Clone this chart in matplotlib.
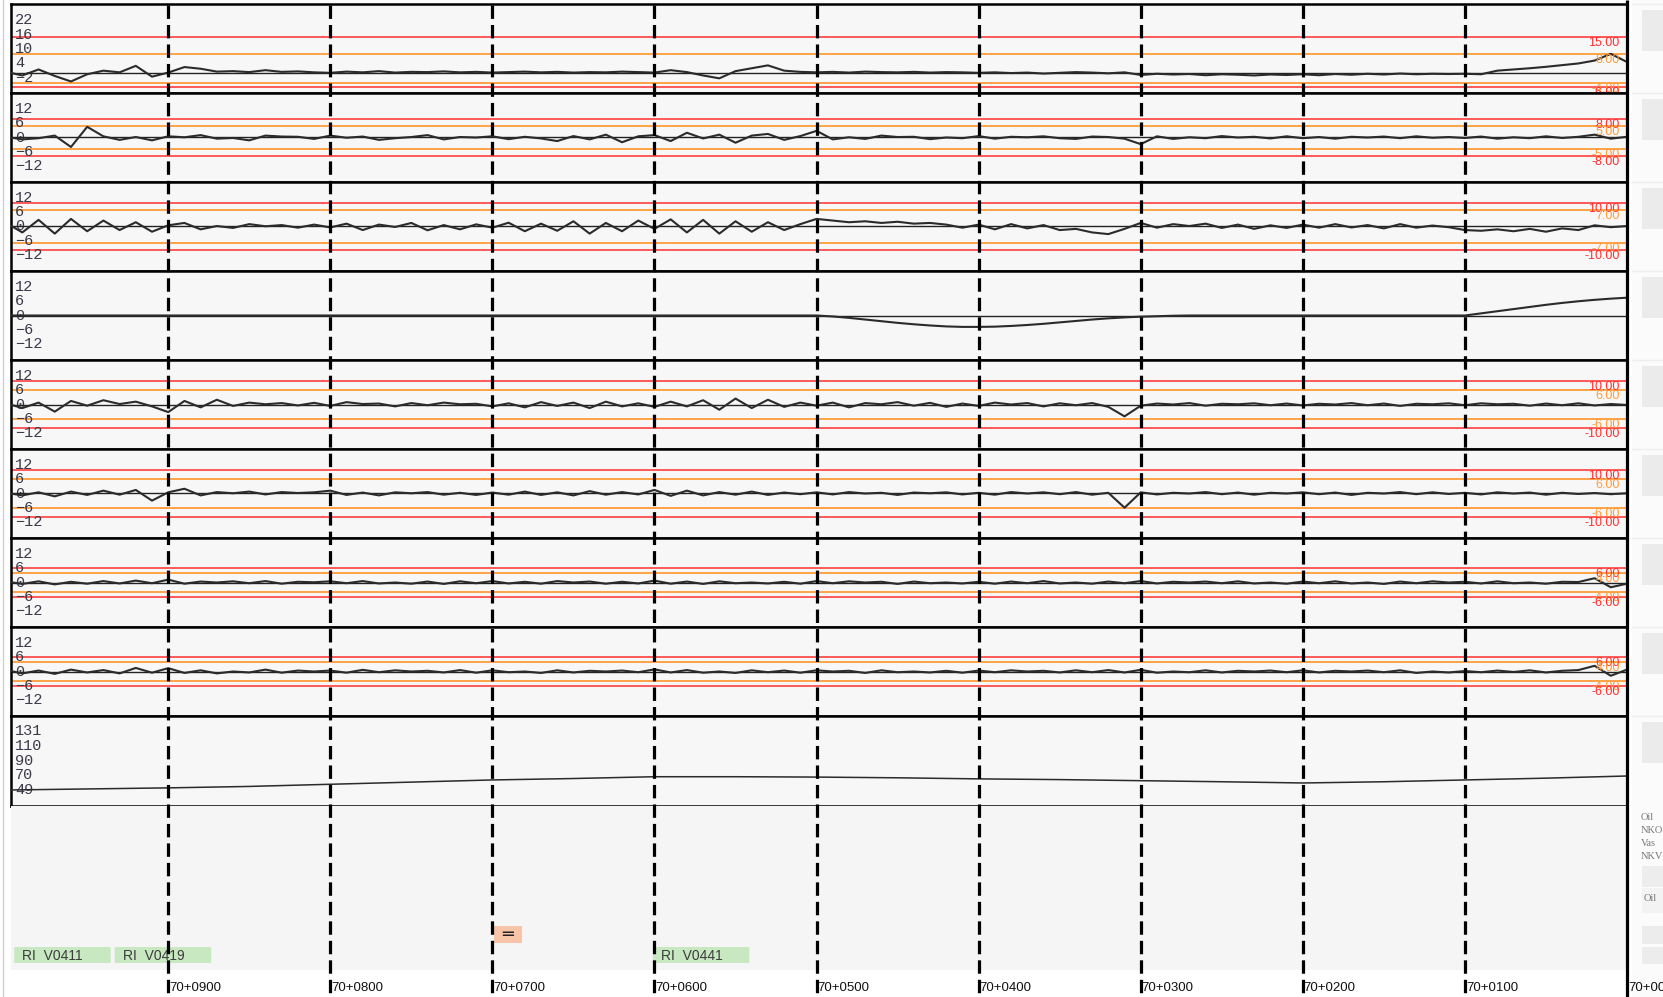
import numpy as np
import matplotlib
matplotlib.use("Agg")
import matplotlib.pyplot as plt
from matplotlib.patches import Rectangle, FancyBboxPatch
from matplotlib.lines import Line2D

# chainage grid (m), left to right
chain10 = np.arange(1000, -1, -10)

sig1 = [0.5, -1.0, 1.5, -1.2, -3.5, -0.5, 1.0, 0.3, 3.0, -1.5,
        0.2, 2.5, 1.8, 0.6, 0.8, 0.4, 1.2, 0.5, 0.7, 0.3,
        0.1, 0.6, 0.3, 0.8, 0.2, 0.5, 0.4, 0.7, 0.3, 0.5,
        0.2, 0.4, 0.6, 0.3, 0.5, 0.2, 0.4, 0.3, 0.6, 0.4,
        0.2, 1.2, 0.4, -1.0, -2.2, 0.8, 2.0, 3.2, 1.0, 0.5,
        0.3, 0.5, 0.2, 0.6, 0.4, 0.3, 0.5, 0.2, 0.4, 0.3,
        0.1, 0.3, 0.0, 0.2, -0.2, 0.1, 0.4, 0.2, -0.1, 0.3,
        -0.8, -0.3, -0.6, -0.4, -0.9, -0.5, -0.7, -1.0, -0.6, -0.8,
        -0.5, -0.9, -0.4, -0.7, -0.3, -0.6, -0.2, -0.5, -0.3, -0.4,
        -0.3, -0.5, 1.0, 1.5, 2.0, 2.6, 3.3, 4.0, 5.2, 8.0,
        4.6]
sig2 = [0.3, -0.8, -0.3, 0.8, -4.0, 4.5, 0.5, -1.0, 0.2, -1.2,
        0.5, 0.1, 1.0, -0.5, -0.2, -1.2, 0.8, 0.4, 0.3, -0.6,
        0.8, -0.1, 0.4, -1.0, -0.3, 0.2, 1.0, -0.8, 0.2, 0.0,
        0.5, -0.7, 0.3, -0.4, -1.5, 0.6, -0.8, 1.2, -2.0, 0.5,
        1.0, -1.5, 2.0, -0.4, 1.2, -2.2, 0.8, 1.5, -1.0, 0.6,
        2.8, -0.8, 0.1, -0.6, 0.8, 0.2, 0.3, -0.7, 0.0, -0.3,
        0.6, -0.5, 0.3, 0.1, 0.5, -0.3, -0.6, 0.4, 0.2, -0.5,
        -2.8, 0.5, -0.6, 0.1, -0.3, 0.6, 0.0, 0.3, -0.4, 0.5,
        -0.3, 0.2, -0.5, 0.3, 0.0, 0.4, -0.3, 0.5, -0.1, 0.2,
        -0.2, 0.4, -0.5, 0.1, -0.3, 0.5, -0.2, 0.3, 1.2, -0.5,
        0.3]
sig3 = [1.5, -2.5, 2.8, -3.0, 3.2, -2.0, 2.5, -1.5, 1.8, -2.2,
        0.5, 1.5, -1.2, 0.2, -0.6, 1.0, 0.1, 0.6, -0.5, 0.8,
        -0.4, 1.2, -1.5, 0.8, -0.2, 1.5, -1.6, 0.6, -1.2, 0.9,
        -0.5, 1.6, -2.0, 1.2, -1.8, 2.2, -3.0, 1.5, -2.0, 2.5,
        -1.0, 3.0, -2.5, 2.8, -3.0, 2.2, -2.2, 1.8, -1.5, 1.0,
        3.2, 2.5, 1.8, 2.2, 1.5, 2.0, 1.2, 1.5, 0.8, -0.5,
        0.8, -1.2, 1.0, -0.8, 0.6, -1.5, -1.0, -2.5, -3.2, -1.0,
        1.5, -0.5, 1.0, 0.2, 1.2, -0.6, 0.8, -1.0, 0.5, -0.6,
        0.8, -0.5, 1.0, -0.4, 0.6, -0.8, 1.0, -0.5, 0.4, -0.3,
        -1.5, -1.8, -1.2, -2.0, -1.0, -2.2, -0.8, -1.5, 0.5, -0.3,
        0.2]
sig4 = [0.0] * 50 + [
        0.0, -0.4, -1.0, -1.7, -2.4, -3.1, -3.7, -4.2, -4.6, -4.8,
        -4.8, -4.7, -4.4, -4.0, -3.5, -2.9, -2.3, -1.7, -1.2, -0.8,
        -0.5, -0.3, -0.1, 0.0, 0.0, 0.0, 0.0, 0.0, 0.0, 0.0,
        0.0, 0.0, 0.0, 0.0, 0.0, 0.0, 0.0, 0.0, 0.0, 0.0,
        0.0, 0.9, 1.8, 2.7, 3.6, 4.5, 5.3, 6.0, 6.6, 7.1,
        7.5]
sig5 = [0.5, -1.5, 0.8, -3.0, 1.5, -0.5, 1.8, 0.2, 1.2, -0.8,
        -3.2, 1.5, -1.2, 2.0, -0.6, 0.8, 0.1, 0.6, -0.4, 0.7,
        -0.6, 1.0, 0.2, 0.4, -0.8, 0.6, -0.3, 0.8, 0.1, 0.3,
        -0.8, 0.5, -1.2, 1.0, -0.6, 0.8, -1.5, 1.2, -0.8, 0.5,
        -1.0, 1.2, -0.8, 1.8, -2.2, 2.5, -1.5, 2.0, -1.0, 0.8,
        -0.5, 0.8, -1.2, 0.6, 0.1, 1.0, -0.5, 0.7, -1.0, 0.4,
        -0.6, 0.8, 0.0, 0.6, -0.8, 0.5, -0.3, 0.6, -1.0, -5.0,
        -0.5, 0.4, 0.0, 0.6, -0.5, 0.3, 0.1, 0.5, -0.3, 0.4,
        -0.4, 0.3, 0.0, 0.6, -0.3, 0.4, -0.6, 0.3, 0.1, 0.5,
        -0.3, 0.5, 0.1, 0.3, -0.5, 0.4, -0.3, 0.5, -0.4, 0.2,
        -0.2]
sig6 = [0.3, -0.8, 0.5, -1.2, 0.8, -0.6, 1.2, -0.5, 1.5, -3.0,
        0.5, 2.0, -0.8, 0.6, 0.1, 0.8, -0.4, 0.6, 0.2, 0.5,
        1.2, -0.6, 0.4, -0.8, 0.5, 0.1, 0.6, -0.5, 0.3, -0.6,
        0.4, -0.5, 0.8, -0.6, 0.5, -0.8, 1.0, -0.5, 0.6, -0.4,
        1.5, -1.0, 1.2, -0.8, 0.6, -0.5, 0.8, -0.6, 0.4, -0.3,
        0.5, -0.4, 0.6, 0.0, 0.3, -0.6, 0.4, 0.1, 0.5, -0.4,
        0.3, -0.5, 0.6, 0.0, 0.5, -0.3, 0.6, -0.5, 0.3, -6.0,
        0.5, -0.4, 0.3, 0.0, 0.6, -0.3, 0.4, -0.5, 0.3, 0.0,
        0.5, -0.3, 0.4, -0.6, 0.3, 0.0, 0.6, -0.3, 0.5, -0.2,
        0.3, -0.4, 0.5, 0.0, 0.4, -0.5, 0.3, -0.2, 0.2, -0.3,
        0.1]
sig7 = [0.4, -0.6, 0.5, -0.8, 0.3, -0.5, 0.6, -0.4, 0.8, -0.3,
        1.2, -0.5, 0.4, 0.0, 0.5, -0.3, 0.6, -0.5, 0.3, 0.1,
        0.5, -0.3, 0.6, -0.4, 0.0, -0.5, 0.4, -0.6, 0.5, -0.3,
        0.6, -0.4, 0.3, -0.5, 0.6, 0.0, 0.4, -0.5, 0.3, -0.4,
        0.8, -0.5, 0.4, -0.6, 0.5, -0.3, 0.0, -0.4, 0.3, -0.5,
        0.6, -0.3, 0.5, 0.0, 0.3, -0.6, 0.4, -0.3, 0.0, -0.4,
        0.3, -0.5, 0.4, -0.3, 0.6, -0.4, 0.0, -0.5, 0.4, -0.3,
        0.6, -0.4, 0.3, 0.0, 0.4, -0.3, 0.5, -0.4, 0.0, -0.5,
        0.4, -0.3, 0.5, -0.4, 0.0, -0.6, 0.4, -0.3, 0.5, 0.0,
        0.3, -0.4, 0.5, -0.3, 0.0, -0.5, 0.3, 0.2, 1.8, -2.0,
        -0.5]
sig8 = [0.6, -0.8, 0.4, -1.0, 0.8, -0.4, 0.6, -0.8, 1.5, -0.5,
        1.4, -0.6, 0.5, -0.8, 0.0, -0.4, 0.8, -0.5, 0.4, 0.0,
        0.4, -0.5, 0.7, -0.3, 0.5, 0.0, 0.3, -0.4, 0.6, -0.5,
        0.5, -0.3, 0.0, -0.6, 0.5, -0.4, 0.3, 0.0, 0.4, -0.3,
        0.9, -0.4, 0.6, -0.5, 0.0, -0.6, 0.5, -0.3, 0.4, -0.5,
        0.5, 0.0, 0.3, -0.6, 0.5, -0.3, 0.0, -0.4, 0.3, -0.5,
        0.4, -0.3, 0.5, 0.0, 0.3, -0.4, 0.5, -0.3, 0.6, -0.4,
        0.7, -0.5, 0.0, -0.3, 0.5, -0.4, 0.3, 0.0, 0.4, -0.3,
        0.5, -0.4, 0.3, 0.0, 0.4, -0.3, 0.5, -0.6, 0.0, -0.4,
        0.2, -0.3, 0.4, -0.2, 0.5, -0.4, 0.3, 0.6, 2.4, -1.8,
        0.8]
sig9 = [49, 50.5, 52, 54, 57, 60, 63, 65, 66.5, 67.5,
        67.5, 67, 66, 64.5, 63.5, 62, 60.5, 59.5, 58.8, 60.5,
        63, 65.5, 68.5]
chain9 = [1000, 950, 900, 850, 800, 750, 700, 650, 620, 600,
          550, 500, 450, 400, 350, 300, 250, 220, 200, 150,
          100, 50, 0]

signals = [sig1, sig2, sig3, sig4, sig5, sig6, sig7, sig8]

ylims = [(-8.3, 28.75)] + [(-18.75, 18.75)] * 7 + [(26.8, 151.9)]
tick_vals = [[22, 16, 10, 4, -2]] + [[12, 6, 0, -6, -12]] * 7 + [[131, 110, 90, 70, 49]]

red_hi = [15, 8, 10, None, 10, 10, 6, 6, None]
orange_hi = [8, 5, 7, None, 6, 6, 4, 4, None]
orange_lo = [-4, -5, -7, None, -6, -6, -4, -4, None]
red_lo = [-6, -8, -10, None, -10, -10, -6, -6, None]

km_marks = [900, 800, 700, 600, 500, 400, 300, 200, 100, 0]
km_labels = ["70+0900", "70+0800", "70+0700", "70+0600", "70+0500",
             "70+0400", "70+0300", "70+0200", "70+0100", "70+0000"]

event_labels = ["RI  V0411", "RI  V0419", "RI  V0441"]
event_start = [995, 933, 601]
event_len = 59.5
switch_start = 699
switch_len = 17

W, H = 1663, 997
panel_edges = [4, 93, 182, 271, 360, 449, 538, 627, 716, 806]
X0, X1 = 11, 1627
RED = "#ff2f2f"
ORANGE = "#ff9d3a"

fig = plt.figure(figsize=(W / 100, H / 100), dpi=100)
fig.patch.set_facecolor("white")


def px_axes(x0, y0, x1, y1):
    return fig.add_axes([x0 / W, 1 - y1 / H, (x1 - x0) / W, (y1 - y0) / H])


fig.add_artist(Line2D([3 / W, 3 / W], [0, 1], color="#d0d0d0", lw=1))

for i in range(9):
    ax = px_axes(X0, panel_edges[i], X1, panel_edges[i + 1])
    ax.set_facecolor("#f7f7f7")
    ax.set_xlim(997, 0)
    ax.set_ylim(*ylims[i])
    ax.set_xticks([])
    ax.set_yticks([])
    for sp in ax.spines.values():
        sp.set_linewidth(1.8)
        sp.set_color("black")

    if red_hi[i] is not None:
        for v, c in [(red_hi[i], RED), (orange_hi[i], ORANGE),
                     (orange_lo[i], ORANGE), (red_lo[i], RED)]:
            ax.axhline(v, color=c, lw=1.3 if c == ORANGE else 1.1, zorder=1)
            ax.text(0.9955, v, f"{v:.2f}", transform=ax.get_yaxis_transform(),
                    ha="right", va="top", fontsize=9, color=c,
                    family="Liberation Sans", zorder=4)

    for t in tick_vals[i]:
        ax.text(0.0025, t, str(t).replace("-", "\u2212"),
                transform=ax.get_yaxis_transform(), ha="left", va="center",
                fontsize=11, color="#3a3a4a", family="Liberation Mono", zorder=2)

    if i < 8:
        ax.axhline(0, color="#222222", lw=1.0, zorder=2)
        ax.plot(chain10, signals[i], color="#2b2b2b", lw=1.5, zorder=3)
    else:
        ax.plot(chain9, sig9, color="#2b2b2b", lw=1.1, zorder=3)

# event strip below the panels
axb = px_axes(X0, 806, X1, 970)
axb.set_facecolor("#f5f5f5")
axb.set_xlim(997, 0)
axb.set_ylim(970, 806)
axb.set_xticks([])
axb.set_yticks([])
for sp in axb.spines.values():
    sp.set_visible(False)
for lab, st in zip(event_labels, event_start):
    axb.add_patch(FancyBboxPatch((st - event_len, 947), event_len, 16,
                                 boxstyle="round,pad=0,rounding_size=1.5",
                                 mutation_aspect=0.3,
                                 facecolor="#c7e8c1", edgecolor="none"))
    axb.text(st - 5, 955.5, lab, ha="left", va="center", fontsize=10,
             color="#3c3c3c", family="Liberation Sans")
axb.add_patch(Rectangle((switch_start - switch_len, 926), switch_len, 17,
                        facecolor="#f8c4a8", edgecolor="none"))
axb.text(switch_start - switch_len / 2, 934.5, "\u2550", ha="center", va="center",
         fontsize=13, color="#222222", family="DejaVu Sans")

# right side strip (cut off)
axs = px_axes(1632, 0, W, H)
axs.set_xlim(1632, W)
axs.set_ylim(H, 0)
axs.axis("off")
axs.add_patch(Rectangle((1632, 0), 31, H, facecolor="#fbfbfb", edgecolor="none"))
for top in panel_edges[:-1]:
    axs.add_patch(Rectangle((1642, top + 6), 25, 41, facecolor="#ebebeb", edgecolor="none"))
    axs.axhline(top, color="#eeeeee", lw=1)
for k, s in enumerate(["Oil", "NKO", "Vas", "NKV"]):
    axs.text(1641, 817 + 13 * k, s, fontsize=7.5, color="#777777",
             family="Liberation Serif", va="center", clip_on=True)
axs.add_patch(Rectangle((1642, 866), 25, 21, facecolor="#ededed", edgecolor="none"))
axs.add_patch(Rectangle((1642, 888), 25, 25, facecolor="#f3f3f3", edgecolor="none"))
axs.text(1644, 898, "Oil", fontsize=7.5, color="#777777", family="Liberation Serif",
         va="center", clip_on=True)
axs.add_patch(Rectangle((1642, 926), 25, 18, facecolor="#ececec", edgecolor="none"))
axs.add_patch(Rectangle((1642, 947), 25, 17, facecolor="#ececec", edgecolor="none"))

# overlay: km posts and labels
axo = px_axes(X0, 0, X1, H)
axo.patch.set_visible(False)
axo.set_xlim(997, 0)
axo.set_ylim(H, 0)
axo.axis("off")
axo.vlines(km_marks[:-1], 5, H, colors="black", lw=2.3, linestyles=(0, (4.2, 1.9)))
axo.vlines([0], 0, H, colors="black", lw=2.3, clip_on=False)
for m, lab in zip(km_marks, km_labels):
    axo.text(m - 0.6, 988, lab, ha="left", va="center", fontsize=9.5,
             color="#111111", family="Liberation Sans", clip_on=False)

fig.savefig("out.png", dpi=100)
